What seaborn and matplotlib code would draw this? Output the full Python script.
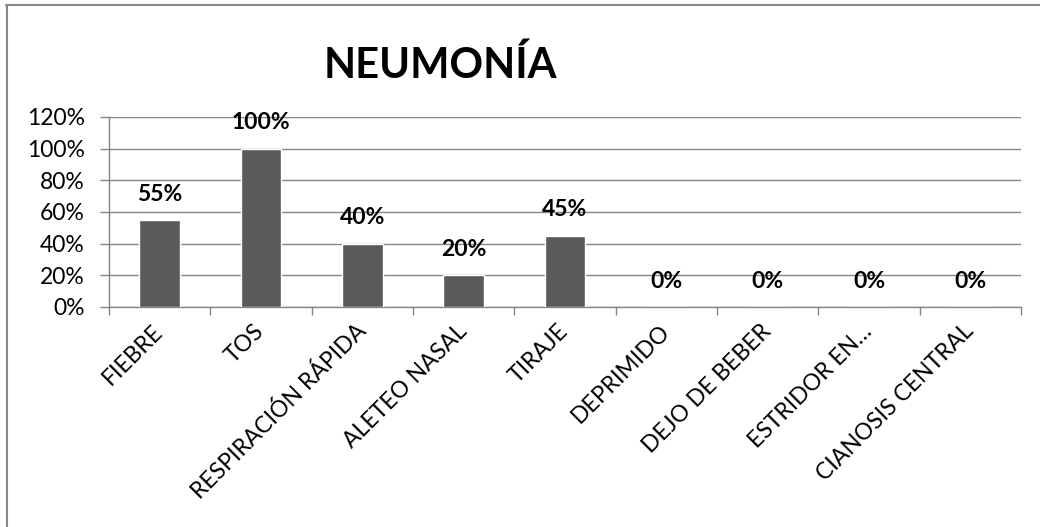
import matplotlib
matplotlib.use("Agg")
import matplotlib.pyplot as plt
from matplotlib.lines import Line2D
from matplotlib.ticker import PercentFormatter, FixedLocator
import seaborn as sns
import pandas as pd

# Signs observed in pneumonia cases (share of cases)
categories = ["FIEBRE", "TOS", "RESPIRACIÓN RÁPIDA", "ALETEO NASAL", "TIRAJE",
              "DEPRIMIDO", "DEJO DE BEBER", "ESTRIDOR EN…", "CIANOSIS CENTRAL"]
values = [0.55, 1.00, 0.40, 0.20, 0.45, 0.0, 0.0, 0.0, 0.0]
yticks = [0.0, 0.2, 0.4, 0.6, 0.8, 1.0, 1.2]
title = "NEUMONÍA"

df = pd.DataFrame({"signo": categories, "valor": values})

sns.set_theme(style="white")
plt.rcParams["font.family"] = ["Lato", "DejaVu Sans"]

grid_col = "#868686"
bar_col = "#5a5a5a"
text_size = 16.5

fig = plt.figure(figsize=(10.4, 5.27), dpi=100)
ax = fig.add_axes([0.1048, 0.4175, 0.8769, 0.3605])

sns.barplot(data=df, x="signo", y="valor", color=bar_col, width=0.4,
            saturation=1, ax=ax, zorder=3)

ax.set_xlim(-0.5, len(categories) - 0.5)
ax.set_ylim(0, 1.2)
ax.set_yticks(yticks)
ax.yaxis.set_major_formatter(PercentFormatter(1.0, decimals=0))
ax.grid(axis="y", color=grid_col, linewidth=1.0, zorder=0)
ax.grid(axis="x", visible=False)
ax.set_xlabel("")
ax.set_ylabel("")

for side in ("top", "right"):
    ax.spines[side].set_visible(False)
for side in ("left", "bottom"):
    ax.spines[side].set_color(grid_col)
    ax.spines[side].set_linewidth(1.0)

# category labels at centres, tick marks at category boundaries
ax.tick_params(axis="x", which="major", length=0, pad=15, labelsize=text_size,
               labelcolor="black")
ax.xaxis.set_minor_locator(FixedLocator([i - 0.5 for i in range(len(categories) + 1)]))
ax.tick_params(axis="x", which="minor", length=5.5, width=1.0, color=grid_col,
               direction="out", bottom=True)
ax.tick_params(axis="y", which="major", length=6.5, width=1.0, color=grid_col,
               direction="out", left=True, labelsize=text_size, labelcolor="black",
               pad=11)
for lab in ax.get_xticklabels():
    lab.set_rotation(45)
    lab.set_ha("right")
    lab.set_va("center")
    lab.set_rotation_mode("anchor")

ax.bar_label(ax.containers[0], labels=[f"{v:.0%}" for v in values],
             padding=11, fontsize=text_size, fontweight="bold", color="black")

fig.text(0.423, 0.877, title, ha="center", va="center",
         fontsize=30, fontweight="bold", color="black")

# chart frame
fig.add_artist(Line2D([0.0058, 1.0], [1 - 5 / 527, 1 - 5 / 527],
                      transform=fig.transFigure, color="#888888", linewidth=1.5))
fig.add_artist(Line2D([7 / 1040, 7 / 1040], [0.0, 1 - 5 / 527],
                      transform=fig.transFigure, color="#888888", linewidth=1.5))

fig.savefig("out.png", dpi=100, facecolor="white")
